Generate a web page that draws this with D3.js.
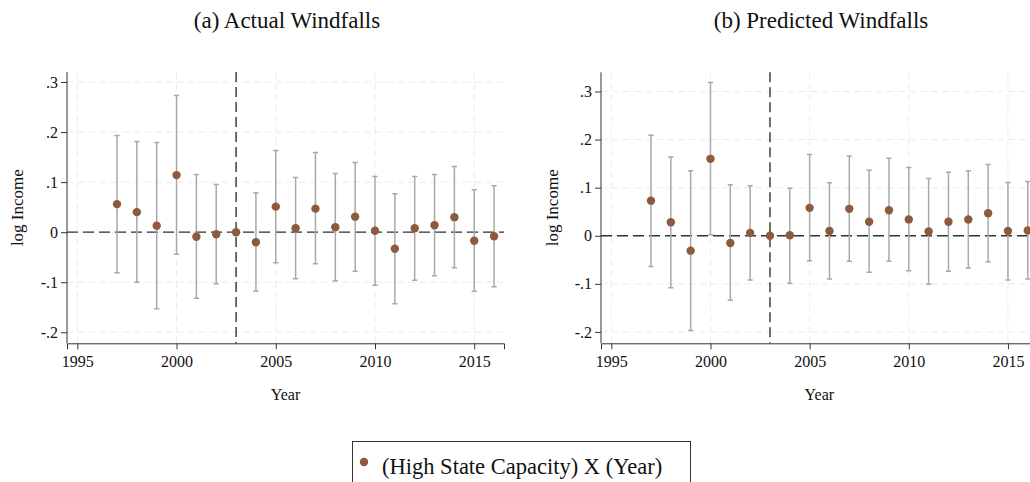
<!DOCTYPE html>
<html>
<head>
<meta charset="utf-8">
<script src="https://cdn.jsdelivr.net/npm/d3@7"></script>
<style>
  body { margin: 0; background: #fff; }
  svg { display: block; font-family: "Liberation Serif", "Times New Roman", serif; }
</style>
</head>
<body>
<svg id="chart" width="1030" height="482"></svg>
<script>
var years = [1997, 1998, 1999, 2000, 2001, 2002, 2003, 2004, 2005, 2006,
             2007, 2008, 2009, 2010, 2011, 2012, 2013, 2014, 2015, 2016];

// (a) actual windfalls
var actualEst = [0.056, 0.040, 0.013, 0.114, -0.009, -0.004, 0, -0.020, 0.051, 0.008,
                 0.047, 0.010, 0.031, 0.003, -0.033, 0.008, 0.014, 0.030, -0.017, -0.008];
var actualHi  = [0.193, 0.181, 0.179, 0.273, 0.115, 0.095, null, 0.079, 0.163, 0.109,
                 0.159, 0.117, 0.139, 0.111, 0.077, 0.111, 0.115, 0.131, 0.085, 0.093];
var actualLo  = [-0.081, -0.100, -0.153, -0.044, -0.132, -0.103, null, -0.118, -0.061, -0.093,
                 -0.063, -0.097, -0.078, -0.106, -0.143, -0.096, -0.087, -0.071, -0.118, -0.109];

// (b) predicted windfalls
var predEst = [0.073, 0.028, -0.031, 0.160, -0.015, 0.006, 0, 0.001, 0.058, 0.010,
               0.056, 0.029, 0.053, 0.034, 0.009, 0.029, 0.034, 0.047, 0.010, 0.011];
var predHi  = [0.209, 0.164, 0.135, 0.319, 0.106, 0.104, null, 0.099, 0.169, 0.110,
               0.166, 0.136, 0.161, 0.142, 0.119, 0.132, 0.135, 0.148, 0.111, 0.113];
var predLo  = [-0.064, -0.108, -0.197, 0.002, -0.134, -0.092, null, -0.099, -0.052, -0.090,
               -0.053, -0.076, -0.053, -0.073, -0.101, -0.074, -0.067, -0.054, -0.092, -0.090];

var xTicks = [1995, 2000, 2005, 2010, 2015];
var yTicks = [-0.2, -0.1, 0, 0.1, 0.2, 0.3];
var yTickLabels = ["-.2", "-.1", "0", ".1", ".2", ".3"];
var eventYear = 2003;

var dotColor = "#8d5a3e";
var barColor = "#a9a9a9";

var svg = d3.select("#chart");

function panel(opt) {
  var x = d3.scaleLinear().domain([1994.48, 2016.5]).range([opt.left, opt.right]);
  var y = d3.scaleLinear().domain(opt.yDomain).range([opt.bottom, opt.top]);
  var g = svg.append("g");

  // grid
  g.selectAll(".gy").data(yTicks).enter().append("line")
    .attr("x1", opt.left).attr("x2", opt.right)
    .attr("y1", function(d) { return y(d); }).attr("y2", function(d) { return y(d); })
    .attr("stroke", "#ececec").attr("stroke-width", 1).attr("stroke-dasharray", "7,4");
  g.selectAll(".gx").data(xTicks).enter().append("line")
    .attr("y1", opt.top).attr("y2", opt.bottom)
    .attr("x1", function(d) { return x(d); }).attr("x2", function(d) { return x(d); })
    .attr("stroke", "#ececec").attr("stroke-width", 1).attr("stroke-dasharray", "7,4");

  // reference lines
  g.append("line")
    .attr("x1", opt.left).attr("x2", opt.right)
    .attr("y1", y(0)).attr("y2", y(0))
    .attr("stroke", "#333").attr("stroke-width", 1.3).attr("stroke-dasharray", "11,5");
  g.append("line")
    .attr("x1", x(eventYear)).attr("x2", x(eventYear))
    .attr("y1", opt.top).attr("y2", opt.bottom)
    .attr("stroke", "#222").attr("stroke-width", 1.3).attr("stroke-dasharray", "10,5");

  // axes
  var yAxis = d3.axisLeft(y).tickValues(yTicks)
    .tickFormat(function(d, i) { return yTickLabels[i]; })
    .tickSizeOuter(0).tickSize(6).tickPadding(3);
  var ya = g.append("g").attr("transform", "translate(" + opt.left + ",0)").call(yAxis);
  ya.select(".domain").attr("d", "M0," + opt.top + "V" + opt.bottom);

  var xAxis = d3.axisBottom(x).tickValues(xTicks).tickFormat(d3.format("d"))
    .tickSizeOuter(0).tickSize(6).tickPadding(6);
  var xa = g.append("g").attr("transform", "translate(0," + opt.bottom + ")").call(xAxis);

  [ya, xa].forEach(function(a) {
    a.selectAll("text").attr("font-size", 16).attr("font-family", "Liberation Serif").attr("fill", "#111");
    a.selectAll("line, path").attr("stroke", "#333");
  });

  // error bars
  var rows = years.map(function(yr, i) {
    return { year: yr, est: opt.est[i], hi: opt.hi[i], lo: opt.lo[i] };
  });
  var bars = rows.filter(function(d) { return d.hi !== null; });
  var cap = 2.6;
  g.selectAll(".bar").data(bars).enter().append("path")
    .attr("d", function(d) {
      var cx = x(d.year), t = y(d.hi), b = y(d.lo);
      return "M" + cx + "," + t + "V" + b +
             "M" + (cx - cap) + "," + t + "H" + (cx + cap) +
             "M" + (cx - cap) + "," + b + "H" + (cx + cap);
    })
    .attr("fill", "none").attr("stroke", barColor).attr("stroke-width", 1.5);

  g.selectAll(".dot").data(rows).enter().append("circle")
    .attr("cx", function(d) { return x(d.year); })
    .attr("cy", function(d) { return y(d.est); })
    .attr("r", 4.2)
    .attr("fill", dotColor);

  // labels
  g.append("text")
    .attr("transform", "translate(" + opt.ylabX + "," + ((opt.top + opt.bottom) / 2) + ") rotate(-90)")
    .attr("text-anchor", "middle").attr("dy", "0.35em")
    .attr("font-size", 17).attr("fill", "#111").text("log Income");
  g.append("text")
    .attr("x", (opt.left + opt.right) / 2).attr("y", 400)
    .attr("text-anchor", "middle").attr("font-size", 16).attr("fill", "#111").text("Year");
  g.append("text")
    .attr("x", opt.titleX).attr("y", 28)
    .attr("text-anchor", "middle").attr("font-size", 23).attr("fill", "#111").text(opt.title);
}

panel({
  left: 67, right: 504, top: 72, bottom: 343.3,
  yDomain: [-0.222, 0.32], ylabX: 17.5, titleX: 287,
  est: actualEst, hi: actualHi, lo: actualLo,
  title: "(a) Actual Windfalls"
});
panel({
  left: 601, right: 1037.7, top: 72.3, bottom: 343.3,
  yDomain: [-0.2237, 0.34], ylabX: 552, titleX: 821,
  est: predEst, hi: predHi, lo: predLo,
  title: "(b) Predicted Windfalls"
});

// legend
var legend = svg.append("g");
legend.append("rect")
  .attr("x", 352.5).attr("y", 441.5).attr("width", 338).attr("height", 60)
  .attr("fill", "#fff").attr("stroke", "#333").attr("stroke-width", 1);
legend.append("circle").attr("cx", 364).attr("cy", 462).attr("r", 4.2).attr("fill", dotColor);
legend.append("text").attr("x", 382).attr("y", 474)
  .attr("font-size", 22.5).attr("fill", "#111").text("(High State Capacity) X (Year)");
</script>
</body>
</html>
